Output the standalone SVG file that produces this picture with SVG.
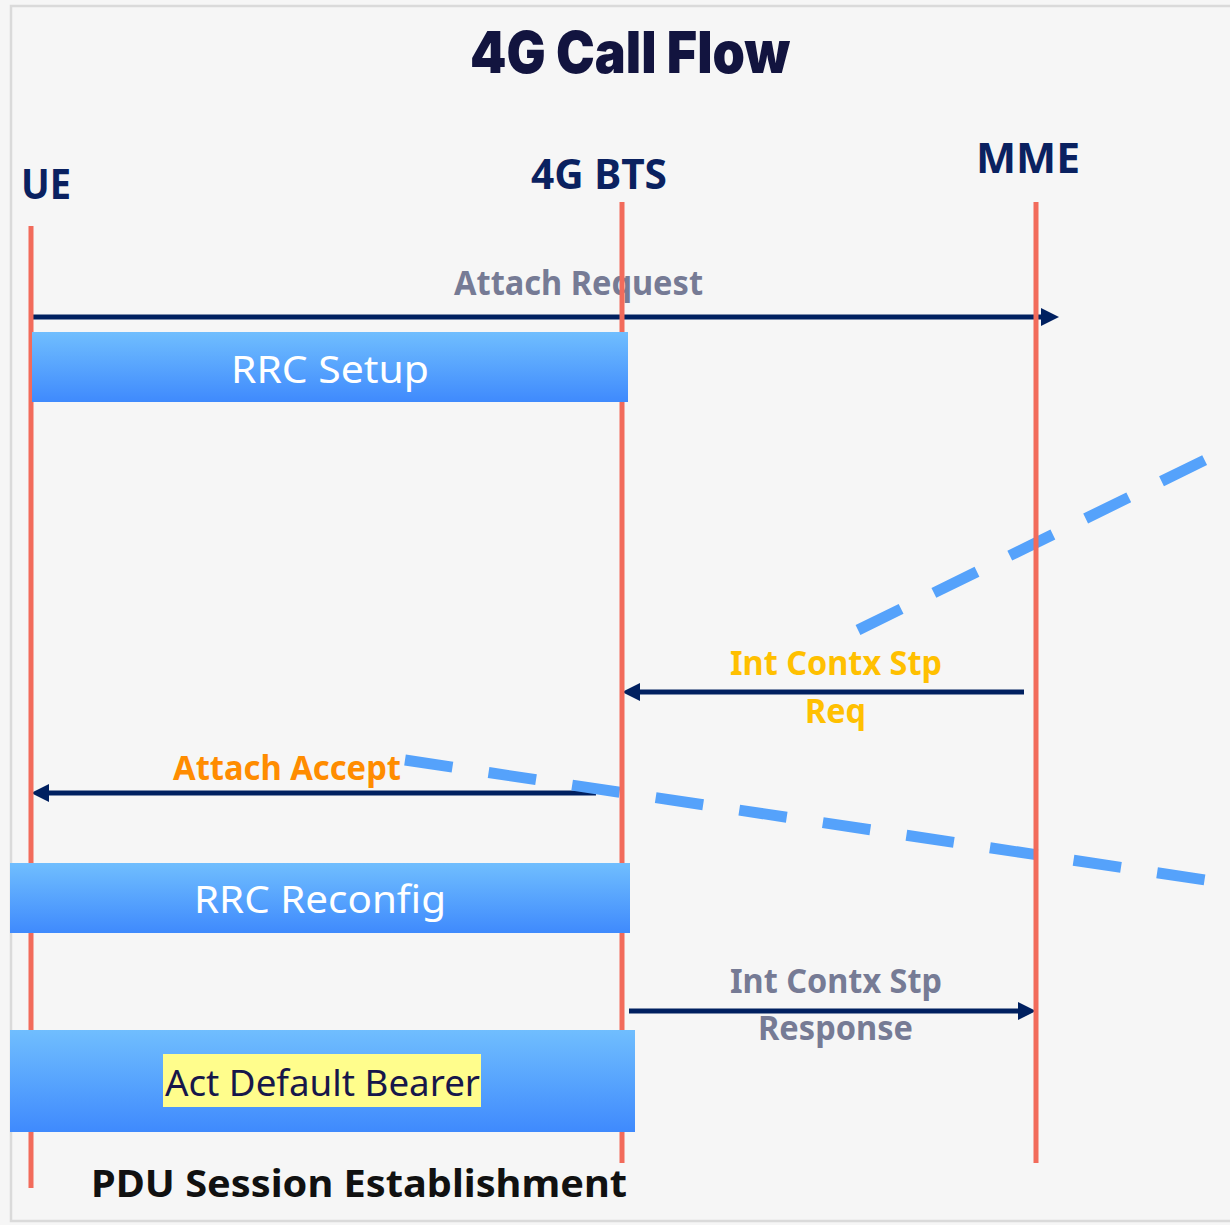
<svg xmlns="http://www.w3.org/2000/svg" width="1230" height="1225" viewBox="0 0 1230 1225">
  <style>
    .hdr { font-family: "Noto Sans", "Open Sans", sans-serif; font-weight: 700; font-size: 42px; fill: #0a2160; }
    .life { stroke: #f26b5b; stroke-width: 5; fill: none; }
    .msg { stroke: #002060; stroke-width: 5; fill: none; marker-end: url(#arr); }
    .lbl { font-family: "Noto Sans", "Open Sans", sans-serif; font-weight: 700; font-size: 34px; }
    .gray { fill: #767b95; }
    .yel { fill: #ffc000; }
    .org { fill: #ff8c00; }
    .box { fill: url(#blue); }
    .boxtxt { font-family: "Noto Sans", "Open Sans", sans-serif; font-size: 39px; fill: #ffffff; }
    .dash { stroke: #55a2fb; stroke-width: 11; stroke-dasharray: 48 36.5; fill: none; }
  </style>
  <defs>
    <linearGradient id="blue" x1="0" y1="0" x2="0" y2="1">
      <stop offset="0" stop-color="#70befe"/>
      <stop offset="1" stop-color="#3f8afd"/>
    </linearGradient>
    <marker id="arr" markerUnits="userSpaceOnUse" markerWidth="18" markerHeight="18" refX="2" refY="9" orient="auto">
      <path d="M0,0 L18,9 L0,18 z" fill="#002060"/>
    </marker>
  </defs>

  <rect x="0" y="0" width="1230" height="1225" fill="#f6f6f6"/>
  <rect x="11" y="6" width="1230" height="1215" fill="#f6f6f6" stroke="#dadada" stroke-width="2.5"/>

  <g id="title">
    <text x="470" y="73" textLength="320" lengthAdjust="spacingAndGlyphs" font-family="Inter, 'Noto Sans', sans-serif" font-weight="900" font-size="58" fill="#12143f">4G Call Flow</text>
  </g>

  <g id="connectors">
    <path class="msg" d="M31,317 L1043,317"/>
    <path class="msg" d="M1024,692 L638,692"/>
    <path class="msg" d="M596,793 L47,793"/>
    <path class="msg" d="M629,1011 L1020,1011"/>
    <text class="lbl gray" x="454" y="295" textLength="249" lengthAdjust="spacingAndGlyphs">Attach Request</text>
    <text class="lbl yel" x="730" y="675" textLength="212" lengthAdjust="spacingAndGlyphs">Int Contx Stp</text>
    <text class="lbl yel" x="805" y="723" textLength="61" lengthAdjust="spacingAndGlyphs">Req</text>
    <text class="lbl org" x="173" y="780" textLength="228" lengthAdjust="spacingAndGlyphs">Attach Accept</text>
    <text class="lbl gray" x="730" y="993" textLength="212" lengthAdjust="spacingAndGlyphs">Int Contx Stp</text>
    <text class="lbl gray" x="758" y="1040" textLength="155" lengthAdjust="spacingAndGlyphs">Response</text>
  </g>

  <g id="dashes">
    <path class="dash" d="M858,630 L1205,460"/>
    <path class="dash" d="M405,760 L1205,880"/>
  </g>

  <g id="ue">
    <text class="hdr" x="21" y="199" textLength="50" lengthAdjust="spacingAndGlyphs">UE</text>
    <line class="life" x1="31" y1="226" x2="31" y2="1188"/>
  </g>
  <g id="bts">
    <text class="hdr" x="531" y="189" textLength="136" lengthAdjust="spacingAndGlyphs">4G BTS</text>
    <line class="life" x1="622" y1="202" x2="622" y2="1163"/>
  </g>
  <g id="mme">
    <text class="hdr" x="976" y="173" textLength="104" lengthAdjust="spacingAndGlyphs">MME</text>
    <line class="life" x1="1036" y1="202" x2="1036" y2="1163"/>
  </g>

  <g id="rrc-setup">
    <rect class="box" x="32" y="332" width="596" height="70"/>
    <text class="boxtxt" x="231" y="383" textLength="198" lengthAdjust="spacingAndGlyphs">RRC Setup</text>
  </g>
  <g id="rrc-reconfig">
    <rect class="box" x="10" y="863" width="620" height="70"/>
    <text class="boxtxt" x="194" y="913" textLength="252" lengthAdjust="spacingAndGlyphs">RRC Reconfig</text>
  </g>
  <g id="act-default-bearer">
    <rect class="box" x="10" y="1030" width="625" height="102"/>
    <rect x="163" y="1054" width="318" height="53" fill="#fffd8c"/>
    <text x="165" y="1096" textLength="315" lengthAdjust="spacingAndGlyphs" font-family="'Noto Sans', 'Open Sans', sans-serif" font-size="37" fill="#17174a">Act Default Bearer</text>
  </g>

  <g id="pdu-label">
    <text x="91" y="1197" textLength="536" lengthAdjust="spacingAndGlyphs" font-family="'Noto Sans', 'Open Sans', sans-serif" font-weight="700" font-size="38" fill="#111111">PDU Session Establishment</text>
  </g>
</svg>
